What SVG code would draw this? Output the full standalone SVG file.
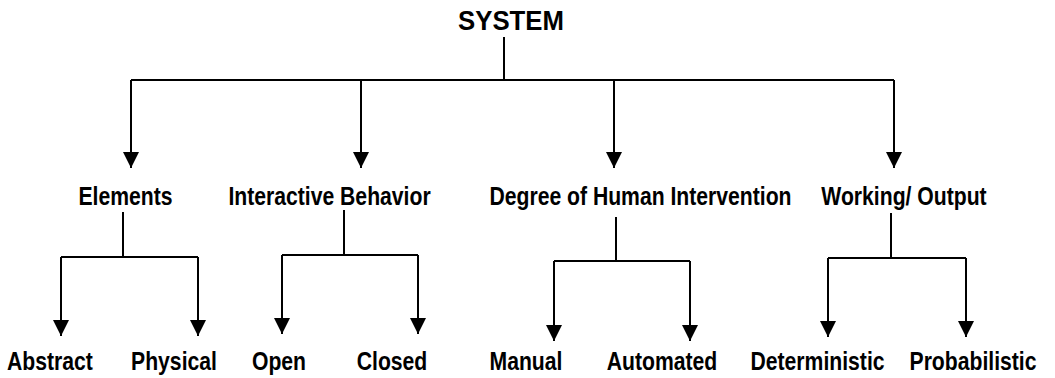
<svg xmlns="http://www.w3.org/2000/svg" width="1055" height="378" viewBox="0 0 1055 378">
  <style>
    .lbl { font-family: "Liberation Sans", Arial, sans-serif; font-weight: bold; font-size: 25.5px; fill: #000; text-anchor: middle; }
    .title { font-size: 27px; }
    .ln { fill: none; stroke: #000; stroke-width: 2; }
    .arr { marker-end: url(#head); }
  </style>
  <defs>
    <marker id="head" markerUnits="userSpaceOnUse" markerWidth="16" markerHeight="16" viewBox="0 0 15 15" refX="15" refY="7.5" orient="auto">
      <path d="M0,0 L15,7.5 L0,15 Z" fill="#000"/>
    </marker>
  </defs>

  <rect width="1055" height="378" fill="#fff"/>

  <!-- connectors -->
  <g id="connectors">
    <!-- root to the four categories -->
    <path class="ln" d="M504,37 V80 M131,80 H894"/>
    <path class="ln arr" d="M131,80 V168"/>
    <path class="ln arr" d="M361,80 V168"/>
    <path class="ln arr" d="M614,80 V168"/>
    <path class="ln arr" d="M894,80 V168"/>

    <!-- Elements -->
    <path class="ln" d="M123,212 V257 M61,257 H198"/>
    <path class="ln arr" d="M61,257 V336"/>
    <path class="ln arr" d="M198,257 V336"/>

    <!-- Interactive Behavior -->
    <path class="ln" d="M344,210 V255 M282,255 H418"/>
    <path class="ln arr" d="M282,255 V334"/>
    <path class="ln arr" d="M418,255 V334"/>

    <!-- Degree of Human Intervention -->
    <path class="ln" d="M616,217 V261 M554,261 H690"/>
    <path class="ln arr" d="M554,261 V341"/>
    <path class="ln arr" d="M690,261 V341"/>

    <!-- Working/ Output -->
    <path class="ln" d="M891,213 V258 M828,258 H966"/>
    <path class="ln arr" d="M828,258 V337"/>
    <path class="ln arr" d="M966,258 V337"/>
  </g>

  <!-- nodes (labels are drawn in a narrowed bold face) -->
  <g id="system"><text class="lbl title" transform="translate(511,29.5) scale(0.955,1)">SYSTEM</text></g>

  <g id="elements"><text class="lbl" transform="translate(125.5,204.5) scale(0.83,1)">Elements</text></g>
  <g id="interactive"><text class="lbl" transform="translate(329.5,204.5) scale(0.83,1)">Interactive Behavior</text></g>
  <g id="degree"><text class="lbl" transform="translate(640.5,204.5) scale(0.83,1)">Degree of Human Intervention</text></g>
  <g id="working"><text class="lbl" transform="translate(904,204.5) scale(0.83,1)">Working/ Output</text></g>

  <g id="abstract"><text class="lbl" transform="translate(50,370) scale(0.83,1)">Abstract</text></g>
  <g id="physical"><text class="lbl" transform="translate(174,370) scale(0.83,1)">Physical</text></g>
  <g id="open"><text class="lbl" transform="translate(279,370) scale(0.83,1)">Open</text></g>
  <g id="closed"><text class="lbl" transform="translate(392,370) scale(0.83,1)">Closed</text></g>
  <g id="manual"><text class="lbl" transform="translate(526,370) scale(0.83,1)">Manual</text></g>
  <g id="automated"><text class="lbl" transform="translate(662,370) scale(0.83,1)">Automated</text></g>
  <g id="deterministic"><text class="lbl" transform="translate(817.5,370) scale(0.83,1)">Deterministic</text></g>
  <g id="probabilistic"><text class="lbl" transform="translate(973,370) scale(0.83,1)">Probabilistic</text></g>
</svg>
